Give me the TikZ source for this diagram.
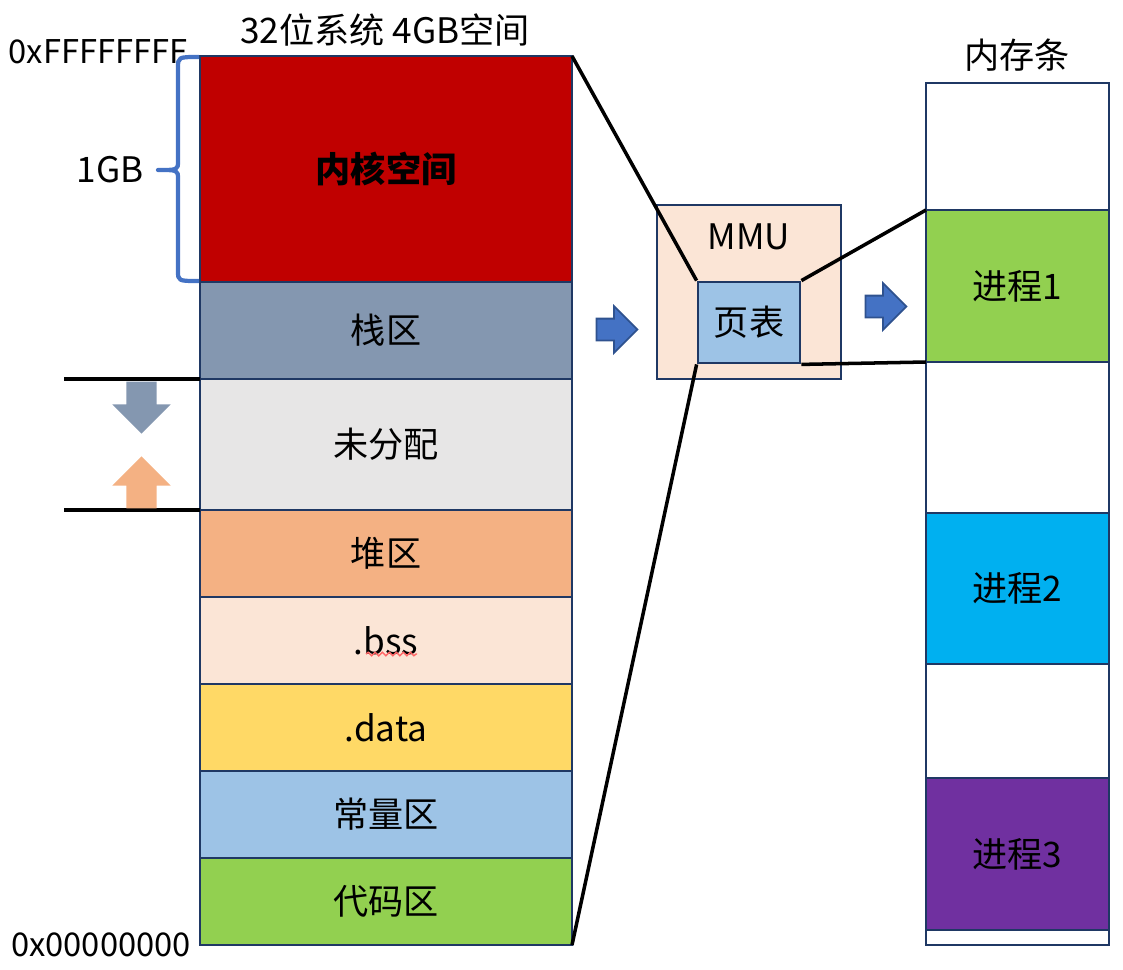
\documentclass[tikz,border=0pt]{standalone}
\usepackage{fontspec}
\setmainfont{Noto Sans CJK SC}
\usetikzlibrary{positioning,shapes.arrows,decorations.pathmorphing}
\definecolor{framec}{RGB}{31,56,100}
\definecolor{kernelc}{RGB}{192,0,0}
\definecolor{stackc}{RGB}{132,151,176}
\definecolor{freec}{RGB}{231,230,230}
\definecolor{heapc}{RGB}{244,177,131}
\definecolor{bssc}{RGB}{251,229,214}
\definecolor{datac}{RGB}{255,217,102}
\definecolor{constc}{RGB}{157,195,230}
\definecolor{codec}{RGB}{146,208,80}
\definecolor{procb}{RGB}{0,176,240}
\definecolor{procc}{RGB}{112,48,160}
\definecolor{arrowblue}{RGB}{68,114,196}
\definecolor{arrowedge}{RGB}{47,82,143}
\tikzset{
  seg/.style={draw=framec, line width=0.8pt, minimum width=3.72cm, inner sep=0pt, outer sep=0pt},
  ramseg/.style={seg, minimum width=1.83cm},
  blockarrow/.style={single arrow, single arrow head extend=0.125cm, inner sep=0.1cm,
    minimum height=0.41cm, fill=arrowblue, draw=arrowedge, line width=0.5pt},
  growarrow/.style={single arrow, single arrow head extend=0.14cm, inner sep=0.145cm,
    minimum height=0.52cm},
  link/.style={line width=1pt},
}
\begin{document}
\begin{tikzpicture}[font=\fontsize{10}{12}\selectfont]
\useasboundingbox (0,0) rectangle (11.23,9.69);
% address space
\node[seg, fill=kernelc, minimum height=2.26cm, anchor=north west, font=\fontsize{10}{12}\selectfont\bfseries] (kernel) at (2,9.13) {内核空间};
\node[seg, fill=stackc, minimum height=0.97cm, below=0pt of kernel] (stack) {栈区};
\node[seg, fill=freec, minimum height=1.31cm, below=0pt of stack] (free) {未分配};
\node[seg, fill=heapc, minimum height=0.87cm, below=0pt of free] (heap) {堆区};
\node[seg, fill=bssc, minimum height=0.87cm, below=0pt of heap] (bss) {.bss};
\node[seg, fill=datac, minimum height=0.87cm, below=0pt of bss] (data) {.data};
\node[seg, fill=constc, minimum height=0.87cm, below=0pt of data] (const) {常量区};
\node[seg, fill=codec, minimum height=0.87cm, below=0pt of const] (code) {代码区};
\draw[red!60, line width=0.4pt, decorate, decoration={snake, amplitude=0.5pt, segment length=2pt}]
  ([shift={(-0.2,-0.135)}]bss.center) -- ([shift={(0.31,-0.135)}]bss.center);
\node (title) at (3.85,9.39) {32位系统 4GB空间};
\node[font=\fontsize{9.3}{11}\selectfont] (hightop) at (0.98,9.17) {0xFFFFFFFF};
\node[font=\fontsize{9.3}{11}\selectfont] (lowbot) at (1.01,0.24) {0x00000000};
% kernel brace
\draw[arrowblue, line width=1.2pt, line join=round]
  (1.99,9.12) .. controls (1.78,9.12) .. (1.78,9.01) -- (1.78,8.08)
  .. controls (1.78,7.99) .. (1.58,7.99) .. controls (1.78,7.99) .. (1.78,7.90)
  -- (1.78,6.98) .. controls (1.78,6.88) .. (1.99,6.88);
\node (gb) at (1.10,7.99) {1GB};
% growth marks
\coordinate (freetopend) at (0.64,5.90);
\coordinate (freebotend) at (0.64,4.59);
\draw[line width=1.1pt] (freetopend) -- (free.north west);
\draw[line width=1.1pt] (freebotend) -- (free.south west);
\node[growarrow, fill=stackc, shape border rotate=270] (stackdown) at (1.415,5.69) {};
\node[growarrow, fill=heapc, shape border rotate=90] (heapup) at (1.415,4.79) {};
% mmu
\node[draw=framec, fill=bssc, line width=0.8pt, minimum width=1.84cm, minimum height=1.74cm, inner sep=0pt] (mmu) at (7.49,6.77) {};
\node (mmutext) at (7.49,7.32) {MMU};
\node[draw=framec, fill=constc, line width=0.8pt, minimum width=1.02cm, minimum height=0.81cm, inner sep=0pt] (pt) at (7.49,6.465) {页表};
\node[blockarrow] (toMMU) at (6.115,6.395) {};
\node[blockarrow] (toRAM) at (8.805,6.625) {};
% memory stick
\node (ramtitle) at (10.17,9.14) {内存条};
\node[ramseg, minimum height=8.62cm, anchor=north west] (ram) at (9.26,8.86) {};
\node[ramseg, fill=codec, minimum height=1.52cm, anchor=north west] (p1) at (9.26,7.59) {进程1};
\node[ramseg, fill=procb, minimum height=1.51cm, anchor=north west] (p2) at (9.26,4.56) {进程2};
\node[ramseg, fill=procc, minimum height=1.52cm, anchor=north west] (p3) at (9.26,1.91) {进程3};
% mapping lines
\draw[link] (kernel.north east) -- (pt.north west);
\draw[link] (code.south east) -- (pt.south west);
\draw[link] (pt.north east) -- (p1.north west);
\draw[link] (pt.south east) -- (p1.south west);
\end{tikzpicture}
\end{document}
